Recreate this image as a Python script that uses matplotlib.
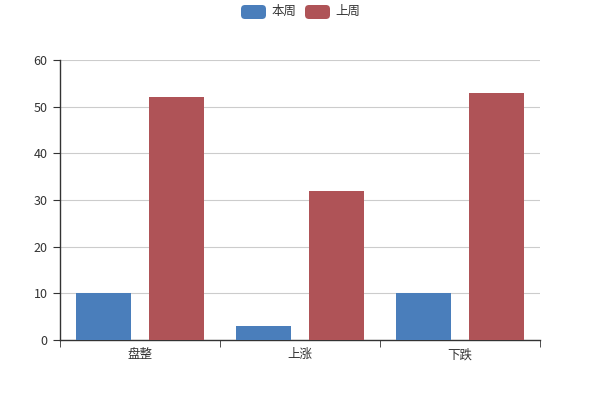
import matplotlib
matplotlib.use("Agg")
import matplotlib.pyplot as plt
from matplotlib.patches import FancyBboxPatch
from matplotlib.transforms import IdentityTransform
import numpy as np

plt.rcParams['font.family'] = ['Noto Sans CJK SC', 'DejaVu Sans']

categories = ["盘整", "上涨", "下跌"]
this_week = [10, 3, 10]
last_week = [52, 32, 53]
series_names = ["本周", "上周"]
colors = ["#4a7ebb", "#af5357"]

fig = plt.figure(figsize=(6, 4), dpi=100)
ax = fig.add_axes([0.1, 0.15, 0.8, 0.7])

x = np.arange(len(categories))
w = 0.344
off = 0.228
ax.bar(x - off, this_week, w, color=colors[0], zorder=3)
ax.bar(x + off, last_week, w, color=colors[1], zorder=3)

ax.set_xlim(-0.5, len(categories) - 0.5)
ax.set_ylim(0, 60)
ax.set_yticks(range(0, 61, 10))
ax.yaxis.grid(True, color="#cccccc", linewidth=0.8, zorder=0)
ax.set_axisbelow(True)

ax.set_xticks(x)
ax.set_xticklabels(categories)
ax.set_xticks(np.arange(-0.5, len(categories), 1.0), minor=True)
ax.tick_params(axis='x', which='major', length=0, pad=6, labelsize=9, labelcolor="#333333")
ax.tick_params(axis='x', which='minor', length=5, color="#333333", direction='out')
ax.tick_params(axis='y', length=5, color="#333333", labelsize=9, labelcolor="#333333", pad=4)

for s in ['top', 'right']:
    ax.spines[s].set_visible(False)
for s in ['left', 'bottom']:
    ax.spines[s].set_color("#333333")
    ax.spines[s].set_linewidth(1)

# legend (pixel coordinates, origin bottom-left)
W, H = 600, 400
items = [(241, series_names[0], colors[0]), (305, series_names[1], colors[1])]
for x0, name, c in items:
    p = FancyBboxPatch((x0, H - 19), 25, 14,
                       boxstyle="round,pad=0,rounding_size=4",
                       transform=IdentityTransform(), facecolor=c, edgecolor='none')
    fig.patches.append(p)
    fig.text((x0 + 30) / W, (H - 11.5) / H, name, fontsize=9, color="#333333",
             va='center', ha='left')

fig.savefig("out.png", dpi=100)
